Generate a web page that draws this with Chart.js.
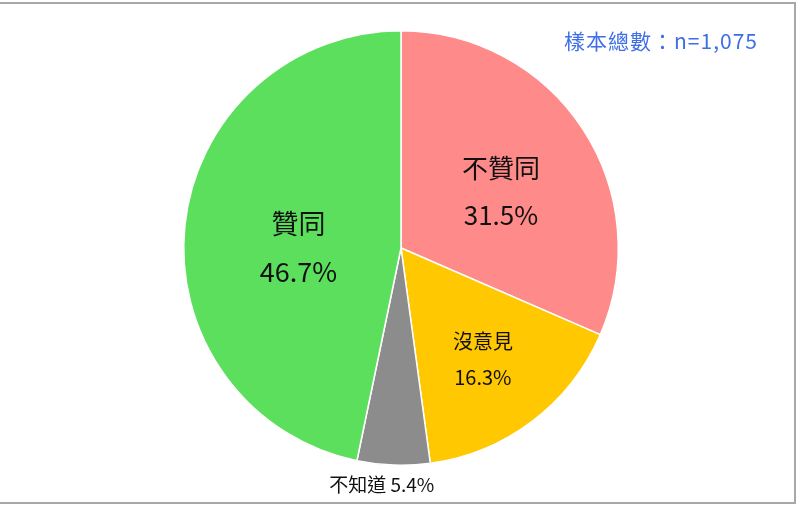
<!DOCTYPE html>
<html>
<head>
<meta charset="utf-8">
<script src="https://cdn.jsdelivr.net/npm/chart.js@4/dist/chart.umd.min.js"></script>
<style>
  html, body { margin: 0; padding: 0; background: #fff; }
  #wrap { position: relative; width: 800px; height: 505px; overflow: hidden; }
  #frame {
    position: absolute; left: -2px; top: 2px; width: 794px; height: 498px;
    border: 2px solid #a8a8a8; pointer-events: none;
  }
  #sample {
    position: absolute; right: 42px; top: 25px; letter-spacing: 1px;
    font: 21px "Noto Sans CJK TC", "Noto Sans", sans-serif; color: #3f6fe6;
  }
</style>
</head>
<body>
<div id="wrap">
  <canvas id="pieChart" width="800" height="505"></canvas>
  <div id="frame"></div>
  <div id="sample">樣本總數：n=1,075</div>
</div>
<script>
// slices, clockwise from 12 o'clock
const categories = ['不贊同', '沒意見', '不知道', '贊同'];
const shares = [31.5, 16.3, 5.4, 46.7];
const sliceColors = ['#ff8a8a', '#ffc800', '#8c8c8c', '#5cdf5c'];

// label placement: fraction of radius along the slice's mid angle, plus small nudges
const labelStyle = [
  { r: 0.55, dx: 0,   dy: 9,  size: 26, inline: false, gap: 47 },
  { r: 0.64, dx: -2,  dy: 1,  size: 20, inline: false, gap: 36 },
  { r: 1.09, dx: -11, dy: 0,  size: 19, inline: true },
  { r: 0.47, dx: -1,  dy: 10, size: 27, inline: false, gap: 48 }
];

const FONT = '"Noto Sans CJK TC", "Noto Sans", sans-serif';

// draws category + percentage text for each arc
const sliceLabels = {
  id: 'sliceLabels',
  afterDatasetsDraw(chart) {
    const ctx = chart.ctx;
    const arcs = chart.getDatasetMeta(0).data;
    ctx.save();
    ctx.fillStyle = '#111';
    ctx.textAlign = 'center';
    ctx.textBaseline = 'middle';
    arcs.forEach((arc, i) => {
      const st = labelStyle[i];
      const p = arc.getProps(['x', 'y', 'startAngle', 'endAngle', 'outerRadius'], true);
      const mid = (p.startAngle + p.endAngle) / 2;
      const x = p.x + Math.cos(mid) * p.outerRadius * st.r + st.dx;
      const y = p.y + Math.sin(mid) * p.outerRadius * st.r + st.dy;
      const pct = shares[i].toFixed(1) + '%';
      ctx.font = st.size + 'px ' + FONT;
      if (st.inline) {
        ctx.fillText(categories[i] + ' ' + pct, x, y);
      } else {
        ctx.fillText(categories[i], x, y - st.gap / 2);
        ctx.fillText(pct, x, y + st.gap / 2);
      }
    });
    ctx.restore();
  }
};

new Chart(document.getElementById('pieChart'), {
  type: 'pie',
  data: {
    labels: categories,
    datasets: [{
      data: shares,
      backgroundColor: sliceColors,
      borderColor: '#ffffff',
      borderWidth: 1.5
    }]
  },
  options: {
    responsive: false,
    animation: false,
    layout: {
      padding: { top: 30, bottom: 39, left: 183, right: 181 }
    },
    plugins: {
      legend: { display: false },
      tooltip: { enabled: false }
    }
  },
  plugins: [sliceLabels]
});
</script>
</body>
</html>
